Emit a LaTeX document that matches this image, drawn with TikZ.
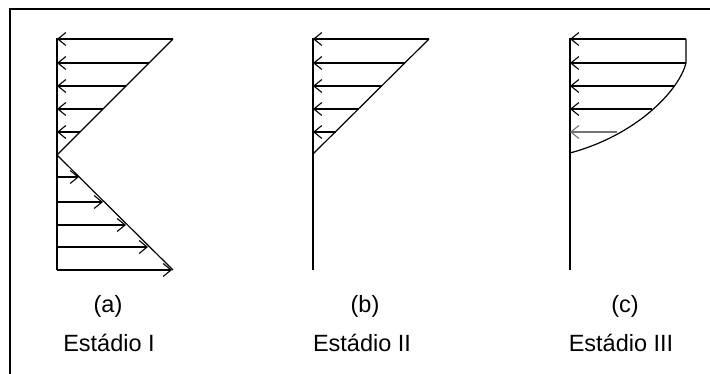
\documentclass[tikz,border=0pt]{standalone}
\usepackage{fontspec}
\setmainfont{Liberation Sans}
\usetikzlibrary{arrows.meta}
\begin{document}
\begin{tikzpicture}[x=1pt,y=-1pt,
  axisline/.style={line width=1.8pt},
  force/.style={line width=1.4pt,-{Straight Barb[length=8pt,width=13pt,line width=1.1pt]}},
  edge/.style={line width=1.2pt},
  lbl/.style={font=\fontsize{23.5}{27}\selectfont,inner sep=0pt}]
\useasboundingbox (0,0) rectangle (710,374);
% frame (only top and left visible)
\draw[line width=2pt] (10,374) -- (10,9) -- (710,9);

% ---------- (a) ----------
\coordinate (a0) at (57,38);
\coordinate (a1) at (57,270);
\draw[axisline] (a0) -- (a1);
\foreach \y/\x in {39/173,63/149,86/126,109/103,132/80}
  \draw[force] (\x,\y) -- (57,\y);
\foreach \y/\x in {177/79,202/103,225/126,247/148,270/172}
  \draw[force] (57,\y) -- (\x,\y);
\coordinate (at) at (173,39);
\coordinate (am) at (57,155);
\coordinate (ab) at (173,270);
\draw[edge] (at) -- (am) -- (ab);

% ---------- (b) ----------
\coordinate (b0) at (313,38);
\coordinate (b1) at (313,270);
\draw[axisline] (b0) -- (b1);
\foreach \y/\x in {39/429,63/405,86/382,109/359,132/336}
  \draw[force] (\x,\y) -- (313,\y);
\coordinate (bt) at (429,39);
\coordinate (bm) at (313,154);
\draw[edge] (bt) -- (bm);

% ---------- (c) ----------
\coordinate (c0) at (570,38);
\coordinate (c1) at (570,270);
\draw[axisline] (c0) -- (c1);
\foreach \y/\x in {39/686,63/686,86/674,109/652}
  \draw[force] (\x,\y) -- (570,\y);
\draw[force,draw=black!55] (617,132) -- (570,132);
\coordinate (ct) at (686,39);
\coordinate (cm) at (686,63);
\coordinate (cb) at (570,153);
\draw[edge] (ct) -- (cm) .. controls (680,88) and (640,134) .. (cb);

% ---------- labels ----------
\node[lbl] (la) at (108,306) {(a)};
\node[lbl] (na) at (109,343) {Estádio I};
\node[lbl] (lb) at (365,306) {(b)};
\node[lbl] (nb) at (362,343) {Estádio II};
\node[lbl] (lc) at (625,306) {(c)};
\node[lbl] (nc) at (621,343) {Estádio III};
\end{tikzpicture}
\end{document}
